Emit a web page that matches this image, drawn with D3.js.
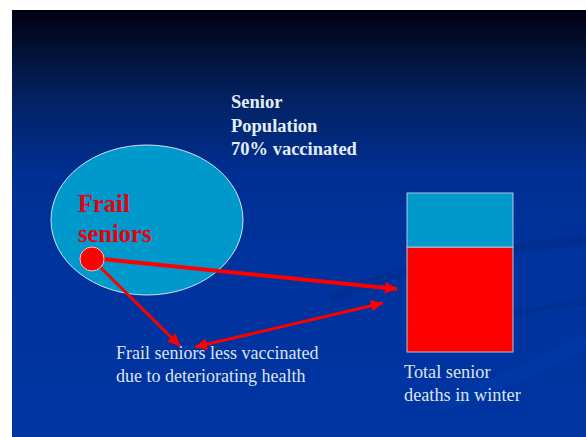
<!DOCTYPE html>
<html>
<head>
<meta charset="utf-8">
<script src="https://cdn.jsdelivr.net/npm/d3@7"></script>
<style>
  body { margin: 0; background: #fff; }
  svg { display: block; }
</style>
</head>
<body>
<div id="scene"></div>
<script>
// stacked bar: share of total senior deaths in winter
const barCategories = ["Frail seniors", "Other seniors"];
const barValues = [66, 34];
const barColors = ["#ff0000", "#0099cc"];

// text blocks
const populationLabel = ["Senior", "Population", "70% vaccinated"];
const frailLabel = ["Frail", "seniors"];
const noteLabel = ["Frail seniors less vaccinated", "due to deteriorating health"];
const barLabel = ["Total senior", "deaths in winter"];

const W = 586, H = 437;
const svg = d3.select("#scene").append("svg")
  .attr("width", W)
  .attr("height", H);

const defs = svg.append("defs");
const grad = defs.append("linearGradient")
  .attr("id", "bg").attr("x1", 0).attr("y1", 0).attr("x2", 0).attr("y2", 1);
[[0, "#000012"], [0.08, "#020f30"], [0.2, "#03215f"], [0.38, "#002f92"], [0.6, "#00339e"], [1, "#0034a0"]]
  .forEach(([o, c]) => grad.append("stop").attr("offset", o).attr("stop-color", c));

defs.append("marker")
  .attr("id", "head")
  .attr("markerUnits", "userSpaceOnUse")
  .attr("viewBox", "0 0 10 10")
  .attr("refX", 10).attr("refY", 5)
  .attr("markerWidth", 14).attr("markerHeight", 12)
  .attr("orient", "auto-start-reverse")
  .append("path")
  .attr("d", "M0,0 L10,5 L0,10 Z")
  .attr("fill", "#ff0000");

// slide background
svg.append("rect")
  .attr("x", 12).attr("y", 10)
  .attr("width", W - 12).attr("height", H - 10)
  .attr("fill", "url(#bg)");

// faint swooshes in the background
const swoosh = svg.append("g").attr("fill", "none").attr("stroke", "#00287f").attr("opacity", 0.35);
swoosh.append("path").attr("d", "M330,300 C420,255 540,245 586,240").attr("stroke-width", 10);
swoosh.append("path").attr("d", "M500,318 C545,305 586,302 586,302").attr("stroke-width", 6);
swoosh.append("path").attr("d", "M440,405 C500,385 560,355 586,340").attr("stroke-width", 14).attr("stroke", "#0040b0");

// population ellipse
svg.append("ellipse")
  .attr("cx", 147).attr("cy", 220)
  .attr("rx", 96).attr("ry", 75)
  .attr("fill", "#0099cc")
  .attr("stroke", "#cfe4ef")
  .attr("stroke-width", 1);

// stacked bar
const y = d3.scaleLinear().domain([0, d3.sum(barValues)]).range([352, 193]);
const stackData = [];
let acc = 0;
barValues.forEach((v, i) => {
  stackData.push({ cat: barCategories[i], y0: acc, y1: acc + v, color: barColors[i] });
  acc += v;
});
svg.append("g").selectAll("rect")
  .data(stackData)
  .enter().append("rect")
  .attr("x", 407)
  .attr("width", 106)
  .attr("y", d => y(d.y1))
  .attr("height", d => y(d.y0) - y(d.y1))
  .attr("fill", d => d.color)
  .attr("stroke", "#a9c6e6")
  .attr("stroke-width", 1);

// arrows
const arrows = svg.append("g").attr("stroke", "#ff0000").attr("fill", "none");
arrows.append("line")
  .attr("x1", 92).attr("y1", 258).attr("x2", 397).attr("y2", 289)
  .attr("stroke-width", 4).attr("marker-end", "url(#head)");
arrows.append("line")
  .attr("x1", 98).attr("y1", 265).attr("x2", 180).attr("y2", 346)
  .attr("stroke-width", 3).attr("marker-end", "url(#head)");
arrows.append("line")
  .attr("x1", 195).attr("y1", 347).attr("x2", 383).attr("y2", 303)
  .attr("stroke-width", 3)
  .attr("marker-start", "url(#head)")
  .attr("marker-end", "url(#head)");

// frail seniors dot
svg.append("circle")
  .attr("cx", 92).attr("cy", 259).attr("r", 12)
  .attr("fill", "#ff0000")
  .attr("stroke", "#f3c4c4")
  .attr("stroke-width", 1);

// labels
const serif = "'Liberation Serif', 'DejaVu Serif', serif";

svg.append("text")
  .attr("font-family", serif).attr("font-weight", "bold")
  .attr("font-size", 18.5).attr("fill", "#e2eef6")
  .selectAll("tspan").data(populationLabel).enter().append("tspan")
  .attr("x", 231).attr("y", (d, i) => 108 + i * 23.5)
  .text(d => d);

svg.append("text")
  .attr("font-family", serif).attr("font-weight", "bold")
  .attr("font-size", 24.5).attr("fill", "#e8000c")
  .selectAll("tspan").data(frailLabel).enter().append("tspan")
  .attr("x", 78).attr("y", (d, i) => 212 + i * 30)
  .text(d => d);

svg.append("text")
  .attr("font-family", serif)
  .attr("font-size", 18).attr("fill", "#dce4f0")
  .selectAll("tspan").data(noteLabel).enter().append("tspan")
  .attr("x", 116).attr("y", (d, i) => 359 + i * 23)
  .text(d => d);

svg.append("text")
  .attr("font-family", serif)
  .attr("font-size", 18.3).attr("fill", "#dce4f0")
  .selectAll("tspan").data(barLabel).enter().append("tspan")
  .attr("x", 404).attr("y", (d, i) => 378 + i * 23)
  .text(d => d);
</script>
</body>
</html>
